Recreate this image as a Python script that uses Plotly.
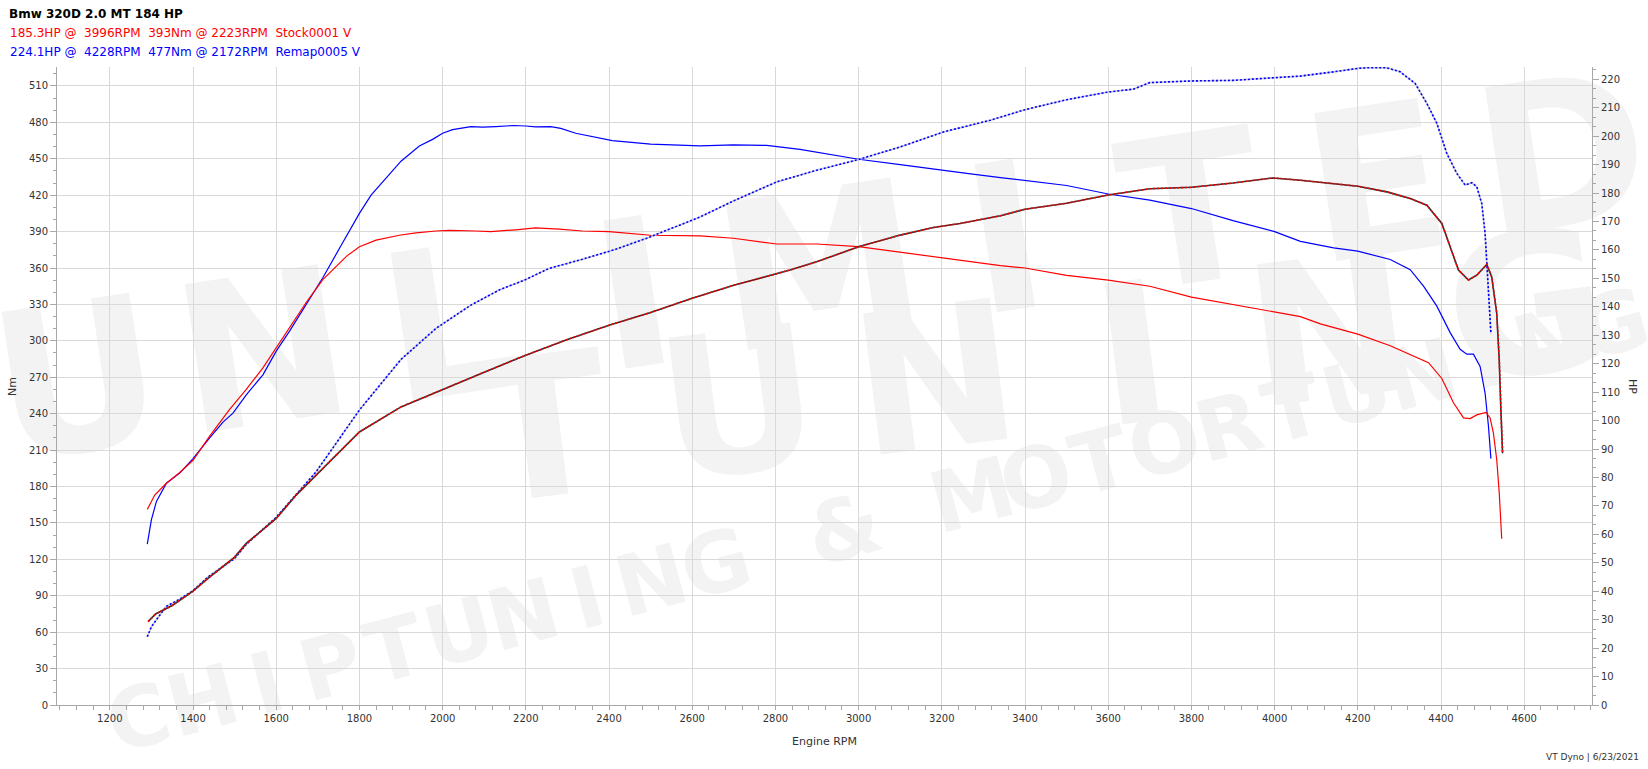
import math
import plotly.graph_objects as go

# ---------------- data ----------------
stock_rpm_nm = [1290, 1308, 1336, 1368, 1400, 1440, 1488, 1528, 1568, 1600, 1640, 1672, 1712, 1744, 1770,
                1800, 1840, 1896, 1936, 1984, 2016, 2080, 2116, 2176, 2223, 2280, 2336, 2400, 2500, 2619,
                2699, 2803, 2899, 3000, 3100, 3196, 3341, 3400, 3500, 3600, 3700, 3800, 3900, 4000, 4062,
                4110, 4200, 4278, 4326, 4370, 4402, 4430, 4454, 4470, 4486, 4508, 4518, 4526, 4534, 4540, 4546]
stock_nm = [161, 173, 182.7, 191.5, 201.6, 221.5, 243.5, 260, 277.7, 294, 315, 331.6, 350.5, 361.4, 370,
            377.5, 383, 387, 389, 390.5, 391, 390.5, 390, 391.5, 393, 392, 390.5, 390, 387, 386.4,
            384.5, 379.8, 379.8, 377.6, 373, 368.6, 362, 360, 354, 350, 345, 336, 330, 324, 320,
            314, 305.5, 296, 289, 282, 269, 249, 236.5, 236, 239, 241, 236.5, 224, 202, 175, 137]

remap_rpm_nm = [1290, 1300, 1312, 1336, 1368, 1400, 1440, 1472, 1496, 1528, 1568, 1600, 1632, 1664, 1712,
                1760, 1800, 1828, 1856, 1900, 1944, 1976, 2000, 2024, 2068, 2096, 2128, 2172, 2200, 2224,
                2260, 2284, 2320, 2368, 2408, 2500, 2619, 2699, 2779, 2859, 2940, 3000, 3100, 3180, 3260,
                3341, 3400, 3500, 3600, 3700, 3800, 3900, 4000, 4062, 4142, 4200, 4278, 4326, 4358, 4390,
                4422, 4446, 4462, 4478, 4494, 4506, 4514, 4520]
remap_nm = [132.5, 152.7, 167.7, 182.7, 191, 203, 220, 233, 240.5, 255.5, 272, 291.5, 308, 326, 352,
            381, 405, 420, 431, 448, 460.5, 466, 471, 474, 476.5, 476, 476.5, 477.4, 477, 476.3,
            476.5, 475, 471, 468, 465, 462, 460.6, 461.4, 461, 457.8, 453.4, 449.6, 445.2, 441.4, 438,
            434.5, 432, 428, 421, 416, 409, 399, 390, 382, 376.6, 373.9, 367, 358.6, 345, 328.6,
            306.8, 293, 289, 289, 279, 257, 230, 203]

stock_rpm_hp = [1292, 1310, 1350, 1400, 1436, 1500, 1528, 1600, 1648, 1696, 1800, 1900, 2000, 2100, 2200,
                2300, 2400, 2500, 2600, 2700, 2835, 2899, 3000, 3100, 3180, 3244, 3341, 3400, 3500, 3600,
                3700, 3800, 3900, 3996, 4062, 4142, 4200, 4270, 4326, 4366, 4402, 4422, 4442, 4466, 4486,
                4510, 4522, 4534, 4540, 4544, 4548]
stock_hp = [29.3, 32, 35, 40, 44.5, 52, 56.8, 65.6, 73.8, 80.8, 96, 104.8, 111, 117, 123,
            128.5, 133.5, 138, 143, 147.6, 152.9, 155.8, 161.1, 165.2, 167.9, 169.3, 172, 174.3, 176.4, 179.3,
            181.5, 182, 183.5, 185.3, 184.5, 183.4, 182.4, 180.4, 178.1, 175.7, 169.3, 161.1, 152.9, 149.4, 151.1,
            154.9, 150.5, 137.7, 121.3, 103.7, 88.5]

remap_rpm_hp = [1290, 1300, 1312, 1336, 1368, 1400, 1436, 1500, 1528, 1600, 1648, 1696, 1800, 1900, 1984,
                2068, 2136, 2200, 2256, 2336, 2416, 2496, 2619, 2699, 2803, 2899, 3000, 3100, 3205, 3317,
                3400, 3500, 3600, 3660, 3700, 3800, 3900, 4000, 4062, 4142, 4200, 4228, 4270, 4302, 4338,
                4366, 4390, 4414, 4438, 4458, 4474, 4486, 4498, 4506, 4512, 4520]
remap_hp = [24, 27.5, 30, 34.7, 37.2, 40.2, 45, 51.5, 56.5, 66, 74, 82, 103.7, 121.5, 132.4,
            140.6, 145.9, 149.6, 153.5, 156.7, 160.2, 164.4, 171.6, 177.2, 183.9, 188, 191.8, 196.2, 201.5, 205.6,
            209.3, 212.8, 215.5, 216.5, 218.8, 219.4, 219.6, 220.4, 221.1, 222.6, 223.8, 224.1, 224, 222.6, 218.5,
            211.5, 204.5, 193.9, 186.9, 182.8, 183.6, 182.2, 176.3, 165.8, 151.7, 130.6]

title_text = "Bmw 320D 2.0 MT 184 HP"
stock_label = "185.3HP @  3996RPM  393Nm @ 2223RPM  Stock0001 V"
remap_label = "224.1HP @  4228RPM  477Nm @ 2172RPM  Remap0005 V"
footer_text = "VT Dyno | 6/23/2021"
watermark_words = ["UNLIMITED", "TUNING", "CHIPTUNING & MOTORTUNING"]

RED = "#ff0000"
BLUE = "#0000ff"

# ---------------- geometry helpers (pixel -> paper) ----------------
W, H = 1648, 769
ML, MR, MT, MB = 57, 56, 67, 64
PW, PH = W - ML - MR, H - MT - MB


def px(x):
    return (x - ML) / PW


def py(y):
    return (H - MB - y) / PH


fig = go.Figure()

# HP traces (dotted two-colour lines)
fig.add_trace(go.Scatter(x=remap_rpm_hp, y=remap_hp, yaxis="y2", mode="lines",
                         line=dict(color="#c8c8d8", width=1.6), hoverinfo="skip"))
fig.add_trace(go.Scatter(x=remap_rpm_hp, y=remap_hp, yaxis="y2", mode="lines",
                         line=dict(color=BLUE, width=1.6, dash="2px,2px")))
fig.add_trace(go.Scatter(x=stock_rpm_hp, y=stock_hp, yaxis="y2", mode="lines",
                         line=dict(color="#303030", width=1.6), hoverinfo="skip"))
fig.add_trace(go.Scatter(x=stock_rpm_hp, y=stock_hp, yaxis="y2", mode="lines",
                         line=dict(color=RED, width=1.6, dash="2px,2px")))

# torque traces
fig.add_trace(go.Scatter(x=remap_rpm_nm, y=remap_nm, mode="lines", line=dict(color=BLUE, width=1.2)))
fig.add_trace(go.Scatter(x=stock_rpm_nm, y=stock_nm, mode="lines", line=dict(color=RED, width=1.2)))

AX = "#a8a8a8"
GRID = "#d9d9d9"
TICKFONT = dict(family="DejaVu Sans", size=10, color="#333333")

fig.update_layout(
    width=W, height=H,
    margin=dict(l=ML, r=MR, t=MT, b=MB),
    paper_bgcolor="white", plot_bgcolor="rgba(0,0,0,0)",
    showlegend=False,
    xaxis=dict(range=[1073, 4763], tickmode="linear", tick0=0, dtick=200,
               showgrid=True, gridcolor=GRID, gridwidth=1, zeroline=False,
               showline=True, linecolor=AX, linewidth=1,
               ticks="outside", ticklen=4, tickcolor=AX, tickfont=TICKFONT,
               minor=dict(tick0=0, dtick=40, ticks="outside", ticklen=4, tickcolor=AX, showgrid=False)),
    yaxis=dict(range=[0, 525.6], tickmode="linear", tick0=0, dtick=30,
               showgrid=True, gridcolor=GRID, gridwidth=1, zeroline=False,
               showline=True, linecolor=AX, linewidth=1,
               ticks="outside", ticklen=6, tickcolor=AX, tickfont=TICKFONT,
               minor=dict(tick0=0, dtick=10, ticks="outside", ticklen=3, tickcolor=AX, showgrid=False)),
    yaxis2=dict(range=[0, 224.3], overlaying="y", side="right", tickmode="linear", tick0=0, dtick=10,
                showgrid=False, zeroline=False,
                showline=True, linecolor=AX, linewidth=1,
                ticks="outside", ticklen=6, tickcolor=AX, tickfont=TICKFONT,
                minor=dict(tick0=0, dtick=10 / 3, ticks="outside", ticklen=3, tickcolor=AX)),
)

NB = "\u00a0"
ann = []
ann.append(dict(text="<b>" + title_text + "</b>", x=px(7), y=py(14), xanchor="left", yanchor="middle",
                font=dict(family="DejaVu Sans", size=12, color="black")))
ann.append(dict(text=stock_label.replace("  ", NB + NB), x=px(8), y=py(33), xanchor="left", yanchor="middle",
                font=dict(family="DejaVu Sans", size=12, color=RED)))
ann.append(dict(text=remap_label.replace("  ", NB + NB), x=px(8), y=py(52), xanchor="left", yanchor="middle",
                font=dict(family="DejaVu Sans", size=12, color=BLUE)))
ann.append(dict(text="Engine RPM", x=px(824), y=py(741), xanchor="center", yanchor="middle",
                font=dict(family="DejaVu Sans", size=11, color="#333333")))
ann.append(dict(text="Nm", x=px(13), y=py(387), xanchor="center", yanchor="middle", textangle=-90,
                font=dict(family="DejaVu Sans", size=11, color="#333333")))
ann.append(dict(text="HP", x=px(1633), y=py(386), xanchor="center", yanchor="middle", textangle=90,
                font=dict(family="DejaVu Sans", size=11, color="#333333")))
ann.append(dict(text=footer_text, x=px(1641), y=py(757), xanchor="right", yanchor="middle",
                font=dict(family="DejaVu Sans", size=9, color="#333333")))
for a in ann:
    a.update(xref="paper", yref="paper", showarrow=False)
fig.update_layout(annotations=ann)

# ---------------- faint watermark (drawn below everything) ----------------
wm_specs = [
    (watermark_words[0], (75, 365), (1560, 140), 205),
    (watermark_words[1], (540, 415), (1525, 292), 195),
    (watermark_words[2], (137, 712), (1612, 318), 84),
]
shapes = []
for word, (x0, y0), (x1, y1), size in wm_specs:
    n = len(word)
    ang = math.degrees(math.atan2(y1 - y0, x1 - x0))
    for i, ch in enumerate(word):
        if ch == " ":
            continue
        t = i / (n - 1)
        cx = x0 + (x1 - x0) * t
        cy = y0 + (y1 - y0) * t
        shapes.append(dict(type="rect", xref="paper", yref="paper",
                           x0=px(cx - 2), x1=px(cx + 2), y0=py(cy + 2), y1=py(cy - 2),
                           line=dict(width=0), fillcolor="rgba(0,0,0,0)", layer="below",
                           label=dict(text=ch, textangle=ang, textposition="middle center",
                                      font=dict(family="DejaVu Sans", size=size, color="#f3f3f3",
                                                weight="bold"))))
fig.update_layout(shapes=shapes)

fig.write_html("out.html", config={"displayModeBar": False},
               post_script="document.body.style.margin='0';document.body.style.overflow='hidden';")
